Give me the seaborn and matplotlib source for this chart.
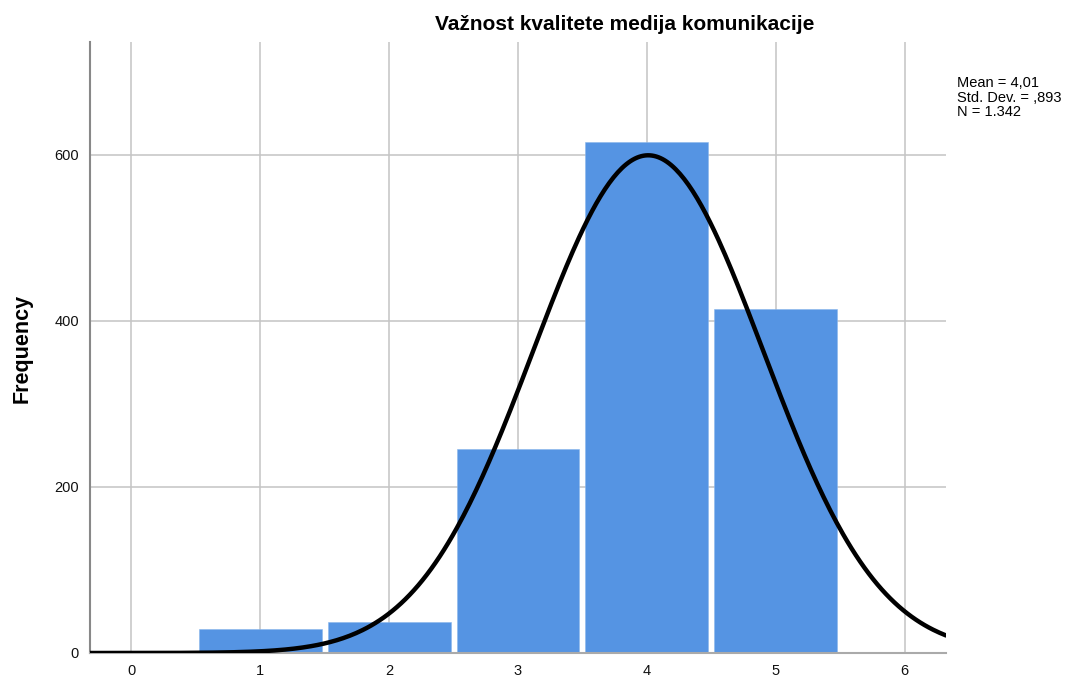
import numpy as np
import pandas as pd
import seaborn as sns
import matplotlib.pyplot as plt

# values
scores = [1, 2, 3, 4, 5]
counts = [29, 37, 246, 616, 414]
mean_val = 4.01
std_val = 0.893
n_total = 1342
stats_text = "Mean = 4,01\nStd. Dev. = ,893\nN = 1.342"
title = "Važnost kvalitete medija komunikacije"

sns.set_style("white")
plt.rcParams['font.family'] = ['Liberation Sans', 'DejaVu Sans']

fig = plt.figure(figsize=(10.78, 6.81), dpi=100)
ax = fig.add_axes([90 / 1078, 28 / 681, 856 / 1078, 611 / 681])

df = pd.DataFrame({"score": scores, "count": counts})
sns.histplot(data=df, x="score", weights="count", discrete=True, shrink=0.953,
             color="#5594E3", alpha=1, edgecolor="#8AB6EC", linewidth=0.4,
             ax=ax, zorder=2)

# normal curve scaled to the counts (bin width 1)
xs = np.linspace(-0.32, 6.32, 400)
ys = n_total / (std_val * np.sqrt(2 * np.pi)) * np.exp(-0.5 * ((xs - mean_val) / std_val) ** 2)
sns.lineplot(x=xs, y=ys, color="black", linewidth=3.2, ax=ax, zorder=3)

ax.set_xlim(-0.32, 6.32)
ax.set_ylim(0, 736)
ax.set_xticks(range(0, 7))
ax.set_yticks([0, 200, 400, 600])
ax.grid(True, color="#C4C4C4", linewidth=1.1, zorder=0)
ax.set_axisbelow(True)
ax.tick_params(axis="both", length=0, labelsize=10.5, colors="#111111", pad=8)
for s in ["top", "right"]:
    ax.spines[s].set_visible(False)
ax.spines["left"].set_color("#888888")
ax.spines["left"].set_linewidth(1.5)
ax.spines["bottom"].set_color("#AAAAAA")
ax.spines["bottom"].set_linewidth(1.5)
ax.set_xlabel("")
ax.set_ylabel("")

fig.text(625 / 1078, 1 - 24 / 681, title, ha="center", va="center",
         fontsize=15, fontweight="bold", color="black")
fig.text(22 / 1078, 1 - 348 / 681, "Frequency", rotation=90, ha="center",
         va="center", fontsize=15.5, fontweight="bold", color="black")
fig.text(957 / 1078, 1 - 76 / 681, stats_text, ha="left", va="top",
         fontsize=10.5, linespacing=1.05, color="black")

fig.savefig("out.png", dpi=100)
